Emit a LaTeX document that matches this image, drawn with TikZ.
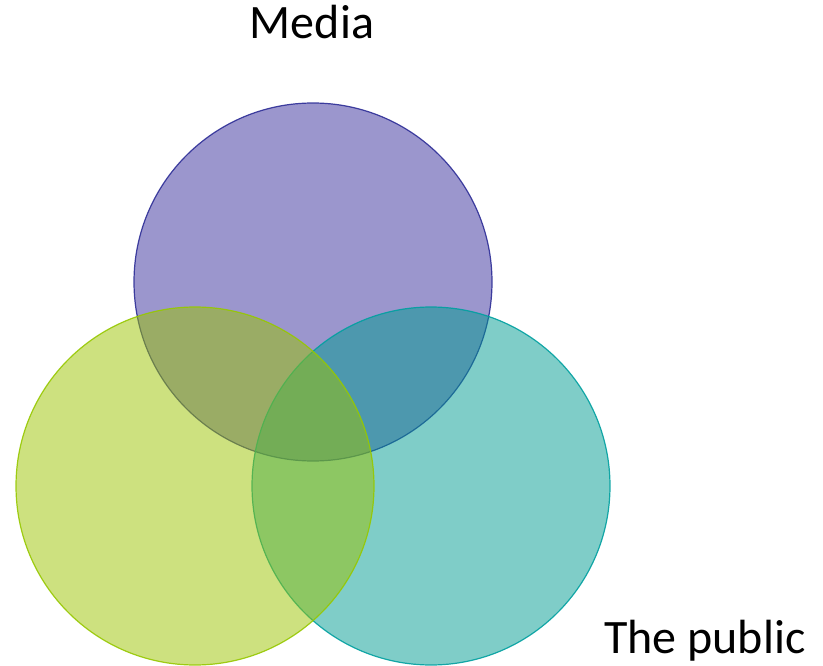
\documentclass[tikz,border=0pt]{standalone}
\usepackage{fontspec}
\setmainfont{Carlito}
\usepackage{tikz}

\definecolor{mediafill}{RGB}{55,45,155}
\definecolor{mediadraw}{RGB}{45,45,150}
\definecolor{greenfill}{RGB}{155,195,0}
\definecolor{greendraw}{RGB}{150,200,0}
\definecolor{tealfill}{RGB}{0,155,145}
\definecolor{tealdraw}{RGB}{0,160,160}

\begin{document}
\begin{tikzpicture}[x=1pt,y=-1pt,
    venn/.style={circle,inner sep=0pt,minimum size=358pt,line width=1.2pt,fill opacity=0.5,draw opacity=0.9},
    lbl/.style={font=\fontsize{48}{56}\selectfont,inner sep=0pt}]
\useasboundingbox (0,0) rectangle (823,666);
\node[venn,fill=mediafill,draw=mediadraw] (media) at (313,282) {}; % top circle
\node[venn,fill=tealfill,draw=tealdraw] (public) at (431,486) {}; % right circle
\node[venn,fill=greenfill,draw=greendraw] (left) at (195,486) {}; % left circle
\node[lbl,anchor=base] (medialbl) at (312,39) {Media};
\node[lbl,anchor=base west] (publiclbl) at (604,653) {The public};
\end{tikzpicture}
\end{document}
